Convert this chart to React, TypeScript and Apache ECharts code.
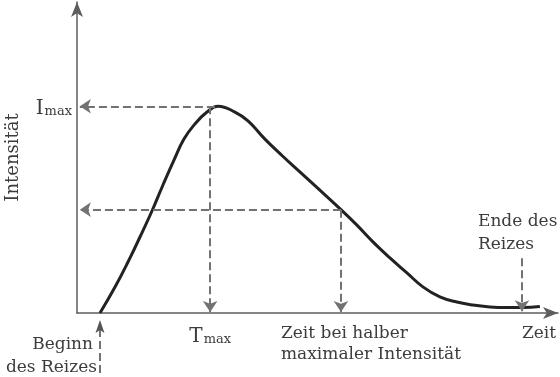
import React, { useEffect, useRef } from "react";
import * as echarts from "echarts";

// Curve (time and intensity in arbitrary units)
const timeValues = [4.85, 8.02, 10.76, 13.29, 15.82, 18.14, 20.46, 22.57, 24.89, 27.43, 29.75, 33.33, 36.08, 39.66, 43.25, 46.62, 50.21, 55.7, 59.07, 62.45, 66.03, 69.62, 72.99, 76.58, 80.17, 83.54, 87.13, 90.72, 94.09, 97.68];
const intensityValues = [0, 8.55, 16.78, 25.0, 33.55, 42.1, 50.3, 57.2, 62.2, 66.1, 68.0, 66.1, 63.2, 57.2, 51.8, 47.0, 41.9, 34.0, 28.9, 23.4, 18.1, 13.2, 8.6, 5.3, 3.6, 2.6, 2.0, 1.8, 1.8, 2.1];

const iMax = 68;
const iHalf = 34;
const tPeak = 29.1;
const tMax = 28.1;
const tHalf = 55.7;
const tStart = 4.85;
const tEnd = 93.9;
const startArrow = [-19.7, -2.3];
const endArrow = [18, 0.6];

const FONT = '"DejaVu Serif", serif';
const TEXT = "#3c3c3c";
const DASH = "#727272";
const AXIS = "#5e5e5e";

export default function App() {
  const ref = useRef<HTMLDivElement>(null);
  useEffect(() => {
    if (!ref.current) return;
    const chart = echarts.init(ref.current, null, { renderer: "svg" });
    const dashed = { type: [8, 4] as any, color: DASH, width: 2 };
    const rich = {
      a: { fontSize: 20, fontFamily: FONT, color: TEXT, lineHeight: 22, verticalAlign: "bottom" },
      b: { fontSize: 13, fontFamily: FONT, color: TEXT, verticalAlign: "bottom", lineHeight: 13, padding: [0, 0, 0, 1] },
    };
    const text = (t: string, x: number, y: number, align = "left") => ({
      type: "text",
      x,
      y,
      style: { text: t, fill: TEXT, font: `17px ${FONT}`, align, verticalAlign: "middle" },
    });
    chart.setOption({
      animation: false,
      grid: { left: 77, right: 2, top: 2, bottom: 64, outerBoundsMode: "none", containLabel: false },
      xAxis: {
        type: "value",
        min: 0,
        max: 101.5,
        splitLine: { show: false },
        axisTick: { show: false },
        axisLine: { lineStyle: { color: AXIS, width: 1.5 }, symbol: ["none", "arrow"], symbolSize: [9, 15] },
        axisLabel: {
          customValues: [tMax],
          margin: 10,
          formatter: () => "{a|T}{b|max}",
          rich,
        },
      },
      yAxis: {
        type: "value",
        min: 0,
        max: 102.3,
        name: "Intensität",
        nameLocation: "middle",
        nameRotate: 90,
        nameGap: 57,
        nameTextStyle: { fontFamily: FONT, fontSize: 18, color: TEXT },
        splitLine: { show: false },
        axisTick: { show: false },
        axisLine: { lineStyle: { color: AXIS, width: 1.5 }, symbol: ["none", "arrow"], symbolSize: [9, 15] },
        axisLabel: {
          customValues: [iMax],
          margin: 5,
          formatter: () => "{a|I}{b|max}",
          rich,
        },
      },
      series: [
        {
          type: "line",
          data: timeValues.map((t, i) => [t, intensityValues[i]]),
          smooth: 0.45,
          symbol: "none",
          lineStyle: { color: "#222", width: 3 },
          z: 3,
          markLine: {
            silent: true,
            symbol: ["none", "arrow"],
            symbolSize: 11,
            label: { show: false },
            lineStyle: dashed,
            data: [
              [{ coord: [tPeak, iMax] }, { coord: [0.6, iMax] }],
              [{ coord: [tMax, iMax] }, { coord: [tMax, 0.3] }],
              [{ coord: [tHalf, iHalf] }, { coord: [0.6, iHalf] }],
              [{ coord: [tHalf, iHalf] }, { coord: [tHalf, 0.3] }],
              [{ coord: [tEnd, endArrow[0]] }, { coord: [tEnd, endArrow[1]] }],
            ],
          },
        },
      ],
    });
    // "Beginn des Reizes" arrow lies below the time axis: place it via the axis scale
    const p0 = chart.convertToPixel({ gridIndex: 0 }, [tStart, startArrow[0]]) as number[];
    const p1 = chart.convertToPixel({ gridIndex: 0 }, [tStart, startArrow[1]]) as number[];
    chart.setOption({
      graphic: [
        {
          type: "line",
          shape: { x1: p0[0], y1: p0[1], x2: p1[0], y2: p1[1] + 10 },
          style: { stroke: DASH, lineWidth: 2, lineDash: [8, 4] },
        },
        {
          type: "polygon",
          shape: {
            points: [
              [p1[0], p1[1]],
              [p1[0] + 4.5, p1[1] + 13],
              [p1[0], p1[1] + 10],
              [p1[0] - 4.5, p1[1] + 13],
            ],
          },
          style: { fill: "#555" },
        },
        text("Zeit bei halber", 281, 332),
        text("maximaler Intensität", 281, 353),
        text("Zeit", 522, 332),
        text("Ende des", 478, 220),
        text("Reizes", 478, 243),
        text("Beginn", 93, 343, "right"),
        text("des Reizes", 97, 366, "right"),
      ],
    });
    return () => chart.dispose();
  }, []);
  return <div ref={ref} style={{ position: "fixed", left: 0, top: 0, width: 560, height: 377 }} />;
}
